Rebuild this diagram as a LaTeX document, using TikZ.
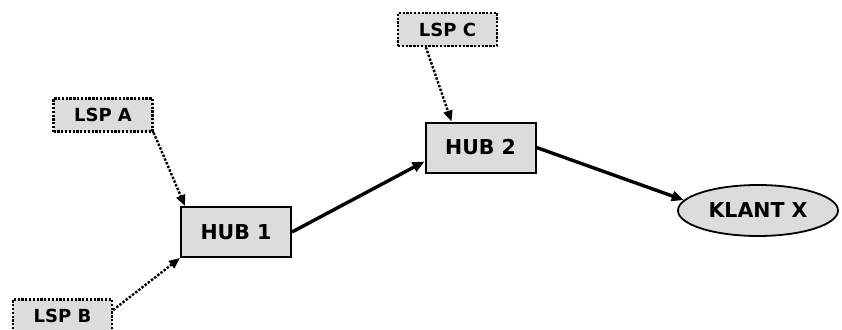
\documentclass[tikz,border=0pt]{standalone}
\usepackage{fontspec}
\setmainfont{DejaVu Sans}
\usepackage{xcolor}
\usetikzlibrary{arrows.meta,positioning,shapes.geometric}
\definecolor{boxgray}{RGB}{220,220,220}
\tikzset{
  hubbox/.style={draw,fill=boxgray,line width=2pt,minimum width=110pt,
    minimum height=50pt,inner sep=0pt,font=\fontsize{20.5}{24}\selectfont\bfseries},
  lspbox/.style={draw,fill=boxgray,line width=2.3pt,dash pattern=on 2.3pt off 1.5pt,
    minimum width=99pt,minimum height=33pt,inner sep=0pt,
    font=\fontsize{18}{21}\selectfont\bfseries},
  klantbox/.style={draw,ellipse,fill=boxgray,line width=1.8pt,minimum width=160pt,
    minimum height=51pt,inner sep=0pt,font=\fontsize{20.5}{24}\selectfont\bfseries},
  mainflow/.style={-{Triangle[length=12pt,width=10pt]},line width=3.4pt},
  lspflow/.style={-{Triangle[length=11pt,width=9pt]},line width=2.4pt,
    dash pattern=on 2.4pt off 1.6pt},
}
\begin{document}
\begin{tikzpicture}[x=1pt,y=-1pt]
\useasboundingbox (0,0) rectangle (842,329);
% Hubs and the customer
\node[hubbox] (hub1) at (236,232) {HUB 1};
\node[hubbox] (hub2) at (480.5,147.5) {HUB 2};
\node[klantbox] (klant) at (758,210.5) {KLANT X};
% Suppliers feeding the hubs
\node[lspbox] (lspa) at (103,115) {LSP A};
\node[lspbox] (lspb) at (62.5,316) {LSP B};
\node[lspbox] (lspc) at (447.5,29.5) {LSP C};
% Main chain
\draw[mainflow] (hub1.east) -- ([yshift=-14pt]hub2.west);
\draw[mainflow] (hub2.east) -- (klant.172);
% Supplier deliveries
\draw[lspflow] (lspa.south east) -- ([xshift=5pt]hub1.north west);
\draw[lspflow] ([yshift=6pt]lspb.east) -- (hub1.south west);
\draw[lspflow] ([xshift=29pt]lspc.south west) -- ([xshift=27pt]hub2.north west);
\end{tikzpicture}
\end{document}
